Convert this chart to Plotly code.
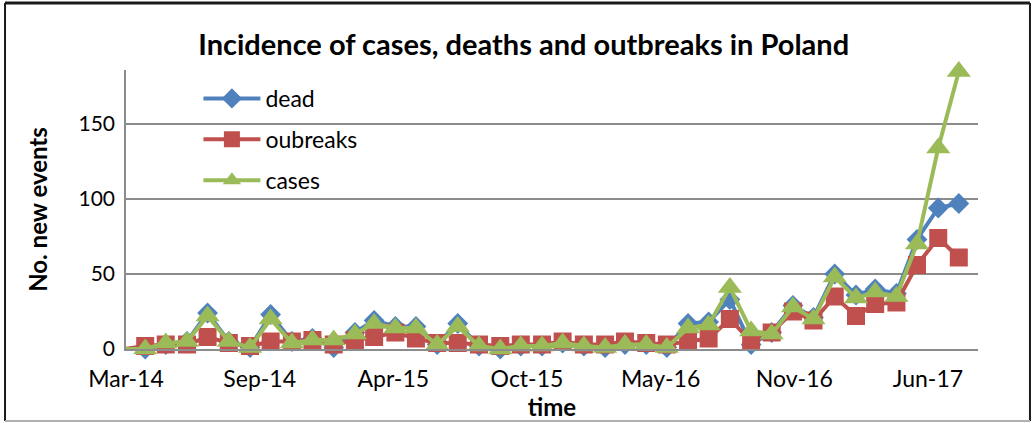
import pandas as pd
import plotly.graph_objects as go

# Monthly observations (first entry lies just before the visible axis start)
months = pd.date_range("2014-03-01", "2017-07-01", freq="MS")

dead = [0,
        0, 3, 5, 24, 5, 1, 23, 5, 7, 1,
        11, 19, 15, 15, 3, 17, 2, 0, 2, 2,
        4, 2, 1, 3, 3, 1, 17, 18, 33, 3,
        11, 29, 21, 50, 36, 40, 37, 73, 94, 97]
outbreaks = [0,
             2, 3, 3, 8, 4, 2, 5, 5, 6, 3,
             6, 8, 11, 7, 4, 4, 3, 2, 3, 3,
             5, 3, 3, 5, 4, 3, 5, 7, 20, 5,
             11, 25, 19, 35, 22, 30, 31, 56, 74, 61]
cases = [0,
         0, 4, 5, 22, 5, 1, 20, 4, 6, 6,
         10, 17, 14, 14, 3, 15, 2, 0, 2, 2,
         4, 2, 1, 3, 3, 1, 14, 16, 41, 12,
         10, 28, 20, 48, 34, 38, 35, 70, 134, 185]

series_names = ["dead", "oubreaks", "cases"]
title_text = "Incidence of cases, deaths and outbreaks in Poland"
y_ticks = [0, 50, 100, 150]
x_tick_labels = ["Mar-14", "Sep-14", "Apr-15", "Oct-15", "May-16", "Nov-16", "Jun-17"]

axis_start = pd.Timestamp("2014-03-04")
axis_end = pd.Timestamp("2017-07-29")
tick_step_days = 195
x_tick_vals = [axis_start + pd.Timedelta(days=tick_step_days * k) for k in range(len(x_tick_labels))]

FONT = "Lato"
colors = ["#4F81BD", "#C0504D", "#9BBB59"]
symbols = ["diamond", "square", "triangle-up"]
msizes = [16, 18, 21]

fig = go.Figure()
for name, vals, col, sym, ms in zip(series_names, [dead, outbreaks, cases], colors, symbols, msizes):
    sizes = [0] + [ms] * (len(vals) - 1)
    fig.add_trace(go.Scatter(
        x=months, y=vals, name=name, mode="lines+markers",
        line=dict(color=col, width=4),
        marker=dict(symbol=sym, size=sizes, color=col, opacity=1, line=dict(width=0)),
        cliponaxis=False, legendgroup=name,
    ))

grid_col = "#8C8C8C"
fig.update_layout(
    width=1035, height=423, autosize=False,
    margin=dict(l=126, r=57, t=70, b=74),
    paper_bgcolor="white", plot_bgcolor="white",
    font=dict(family=FONT, color="black"),
    title=dict(text="<b>" + title_text + "</b>", x=0.506, xref="container",
               y=0.894, yref="container", xanchor="center", yanchor="middle",
               font=dict(size=29, family=FONT, color="black")),
    showlegend=True,
    legend=dict(x=0.085, y=0.975, xanchor="left", yanchor="top",
                font=dict(size=23, family=FONT, color="black"),
                bgcolor="rgba(0,0,0,0)", traceorder="grouped",
                tracegroupgap=8, itemwidth=57),
    xaxis=dict(type="date", range=[axis_start, axis_end],
               tickvals=x_tick_vals, ticktext=x_tick_labels,
               showgrid=False, showline=True, linecolor=grid_col, linewidth=1.5,
               ticks="", ticklabelstandoff=9,
               tickfont=dict(size=23, family=FONT, color="black"),
               title=dict(text="<b>time</b>", standoff=0,
                          font=dict(size=24, family=FONT, color="black"))),
    yaxis=dict(range=[0, 186], tickvals=y_ticks, showgrid=True,
               gridcolor=grid_col, gridwidth=1.5, zeroline=False,
               showline=True, linecolor=grid_col, linewidth=1.5,
               ticks="", ticklabelstandoff=5,
               tickfont=dict(size=21, family=FONT, color="black"),
               title=dict(text="<b>No. new events</b>", standoff=24,
                          font=dict(size=24, family=FONT, color="black"))),
)

# chart-area frame
fig.add_shape(type="line", xref="paper", yref="paper", x0=-0.142, x1=1.061, y0=1.24, y1=1.24,
              line=dict(color="#1A1A1A", width=3))
fig.add_shape(type="line", xref="paper", yref="paper", x0=-0.142, x1=-0.142, y0=1.24, y1=-0.258,
              line=dict(color="#1A1A1A", width=2))
fig.add_shape(type="line", xref="paper", yref="paper", x0=1.061, x1=1.061, y0=1.24, y1=-0.258,
              line=dict(color="#1A1A1A", width=2))
fig.add_shape(type="line", xref="paper", yref="paper", x0=-0.142, x1=1.061, y0=-0.258, y1=-0.258,
              line=dict(color="#B0B0B0", width=2))

fig.write_html("out.html", config={"displayModeBar": False},
               post_script="document.body.style.margin='0px';")
